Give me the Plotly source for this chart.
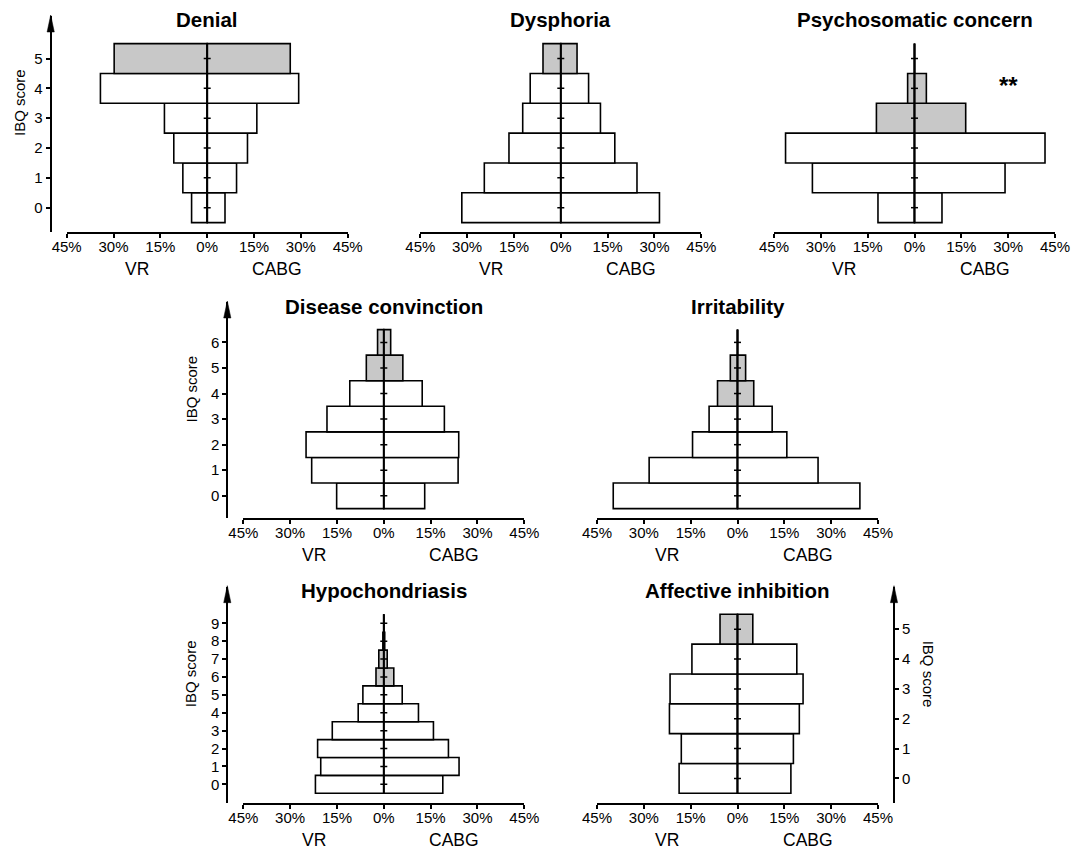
import plotly.graph_objects as go

# the page places the figure 8 px in from the top-left corner of the window
OFF = 8
W, H = 1084 - OFF, 851 - OFF

# ---------------- data (percent of patients per IBQ score, score 0 first) ----------------
titles = ["Denial", "Dysphoria", "Psychosomatic concern", "Disease convinction",
          "Irritability", "Hypochondriasis", "Affective inhibition"]

denial_vr = [5.0, 7.8, 10.7, 13.7, 34.2, 29.8]
denial_cabg = [5.7, 9.4, 12.9, 15.9, 29.3, 26.6]
dysphoria_vr = [31.7, 24.5, 16.6, 12.2, 9.8, 5.7]
dysphoria_cabg = [31.6, 24.4, 17.3, 12.7, 8.9, 5.2]
psych_vr = [11.7, 32.7, 41.3, 12.2, 2.2, 0.0]
psych_cabg = [8.8, 29.0, 41.8, 16.4, 3.8, 0.0]
convict_vr = [15.1, 23.1, 24.9, 18.2, 10.9, 5.6, 2.0]
convict_cabg = [13.1, 23.8, 24.0, 19.4, 12.3, 6.1, 2.2]
irrit_vr = [39.8, 28.3, 14.4, 9.1, 6.4, 2.3, 0.0]
irrit_cabg = [39.2, 25.8, 15.8, 11.1, 5.2, 2.6, 0.0]
hypo_vr = [21.9, 20.2, 21.2, 16.5, 8.2, 6.7, 2.5, 1.6, 0.3, 0.0]
hypo_cabg = [18.9, 24.1, 20.7, 15.9, 11.1, 5.9, 3.2, 1.1, 0.3, 0.0]
affect_vr = [18.7, 18.0, 21.8, 21.6, 14.6, 5.6]
affect_cabg = [17.1, 17.9, 19.8, 21.0, 19.0, 4.9]

# first score drawn in grey (high-score categories)
gray_from = [5, 5, 3, 5, 4, 6, 5]

x_tickvals = [-45, -30, -15, 0, 15, 30, 45]
x_ticktext = ["45%", "30%", "15%", "0%", "15%", "30%", "45%"]
group_left, group_right = "VR", "CABG"
y_title = "IBQ score"
star_text = "**"
star_pos = (30, 4.1)   # in the Psychosomatic concern panel

vr_all = [denial_vr, dysphoria_vr, psych_vr, convict_vr, irrit_vr, hypo_vr, affect_vr]
cabg_all = [denial_cabg, dysphoria_cabg, psych_cabg, convict_cabg, irrit_cabg, hypo_cabg, affect_cabg]

# ---------------- layout geometry (window pixels) ----------------
FONT = "Liberation Sans, Arial, Helvetica, sans-serif"
row_bottom = [232, 518, 802.7]
AX_H = 216
PW = 281
lefts = [66.7, 420.3, 774, 243.3, 597, 243.3, 597]
rows = [0, 0, 0, 1, 1, 2, 2]
axis_side = ["left", None, None, "left", None, "left", "right"]
axis_pos = [50.7, None, None, 227.3, None, 227.3, 894]
ylab_x = [20, None, None, 190.5, None, 190.5, 928]

GRAY = "#c8c8c8"

fig = go.Figure()
annotations = []
shapes = []

def px(v):
    return (v - OFF) / W

def py(v):
    return 1 - (v - OFF) / H

for i in range(7):
    k = i + 1
    xa = "x" if k == 1 else f"x{k}"
    ya = "y" if k == 1 else f"y{k}"
    vr = vr_all[i]
    cb = cabg_all[i]
    n = len(vr)
    scores = list(range(n))
    colors = [GRAY if s >= gray_from[i] else "white" for s in scores]

    fig.add_trace(go.Bar(y=scores, x=[-v for v in vr], orientation="h", width=1,
                         marker=dict(color=colors, line=dict(color="black", width=1.6)),
                         xaxis=xa, yaxis=ya, name=group_left, showlegend=False,
                         hoverinfo="skip"))
    fig.add_trace(go.Bar(y=scores, x=cb, orientation="h", width=1,
                         marker=dict(color=colors, line=dict(color="black", width=1.6)),
                         xaxis=xa, yaxis=ya, name=group_right, showlegend=False,
                         hoverinfo="skip"))
    # centre line and its small ticks
    fig.add_trace(go.Scatter(x=[0, 0], y=[scores[0] - 0.5, scores[-1] + 0.5], mode="lines",
                             line=dict(color="black", width=2), xaxis=xa, yaxis=ya,
                             showlegend=False, hoverinfo="skip"))
    fig.add_trace(go.Scatter(x=[0] * n, y=scores, mode="markers",
                             marker=dict(symbol="line-ew", size=5,
                                         line=dict(color="black", width=1.5)),
                             xaxis=xa, yaxis=ya, showlegend=False, hoverinfo="skip"))

    bottom = row_bottom[rows[i]]
    top = bottom - AX_H
    u = 179.0 / n
    yr = [-0.5 - 9.4 / u, n - 0.5 + (AX_H - 179 - 9.4) / u]

    xl = lefts[i]
    xr = xl + PW
    fig.layout[("xaxis" if k == 1 else f"xaxis{k}")] = dict(
        domain=[px(xl), px(xr)], range=[-45, 45], anchor=ya, automargin=False,
        tickvals=x_tickvals, ticktext=x_ticktext, ticks="outside", ticklen=4,
        ticklabelstandoff=-4,
        tickwidth=1.5, tickcolor="black", showline=True, linewidth=2, linecolor="black",
        showgrid=False, zeroline=False, fixedrange=True,
        tickfont=dict(family=FONT, size=15, color="black"))

    ydict = dict(domain=[py(bottom), py(top)], range=yr, showgrid=False, zeroline=False,
                 fixedrange=True, automargin=False)
    if axis_side[i] is None:
        ydict.update(anchor=xa, visible=False)
    else:
        ydict.update(anchor="free", position=px(axis_pos[i]), side=axis_side[i],
                     showline=True, linewidth=2, linecolor="black", ticks="outside",
                     ticklen=4, tickwidth=1.5, tickcolor="black", tickvals=scores,
                     tickfont=dict(family=FONT, size=15, color="black"))
        ax_x = axis_pos[i]
        shapes.append(dict(type="path", xref="paper", yref="paper",
                           path=f"M {px(ax_x - 3.6)} {py(top + 16)} L {px(ax_x)} {py(top - 1)} "
                                f"L {px(ax_x + 3.6)} {py(top + 16)} Z",
                           fillcolor="black", line=dict(color="black", width=0.5)))
        annotations.append(dict(text=y_title, xref="paper", yref="paper",
                                x=px(ylab_x[i]), y=py(top + 87), showarrow=False,
                                textangle=-90 if axis_side[i] == "left" else 90,
                                xanchor="center", yanchor="middle",
                                font=dict(family=FONT, size=15, color="black")))
    fig.layout[("yaxis" if k == 1 else f"yaxis{k}")] = ydict

    # title
    annotations.append(dict(text=f"<b>{titles[i]}</b>", xref=xa, yref="paper", x=0,
                            y=py(top + 4), showarrow=False, xanchor="center",
                            yanchor="middle", font=dict(family=FONT, size=20.5, color="black")))
    # group labels
    for lab, xv in ((group_left, -22.5), (group_right, 22.5)):
        annotations.append(dict(text=lab, xref=xa, yref="paper", x=xv, y=py(bottom + 37),
                                showarrow=False, xanchor="center", yanchor="middle",
                                font=dict(family=FONT, size=17.5, color="black")))

annotations.append(dict(text=f"<b>{star_text}</b>", xref="x3", yref="y3", x=star_pos[0],
                        y=star_pos[1], showarrow=False, xanchor="center", yanchor="middle",
                        font=dict(family=FONT, size=24, color="black")))

fig.update_layout(template="none", width=W, height=H, margin=dict(l=0, r=0, t=0, b=0, pad=0),
                  paper_bgcolor="white", plot_bgcolor="white", barmode="overlay",
                  showlegend=False, annotations=annotations, shapes=shapes,
                  font=dict(family=FONT, color="black"))

fig.write_html("out.html")
